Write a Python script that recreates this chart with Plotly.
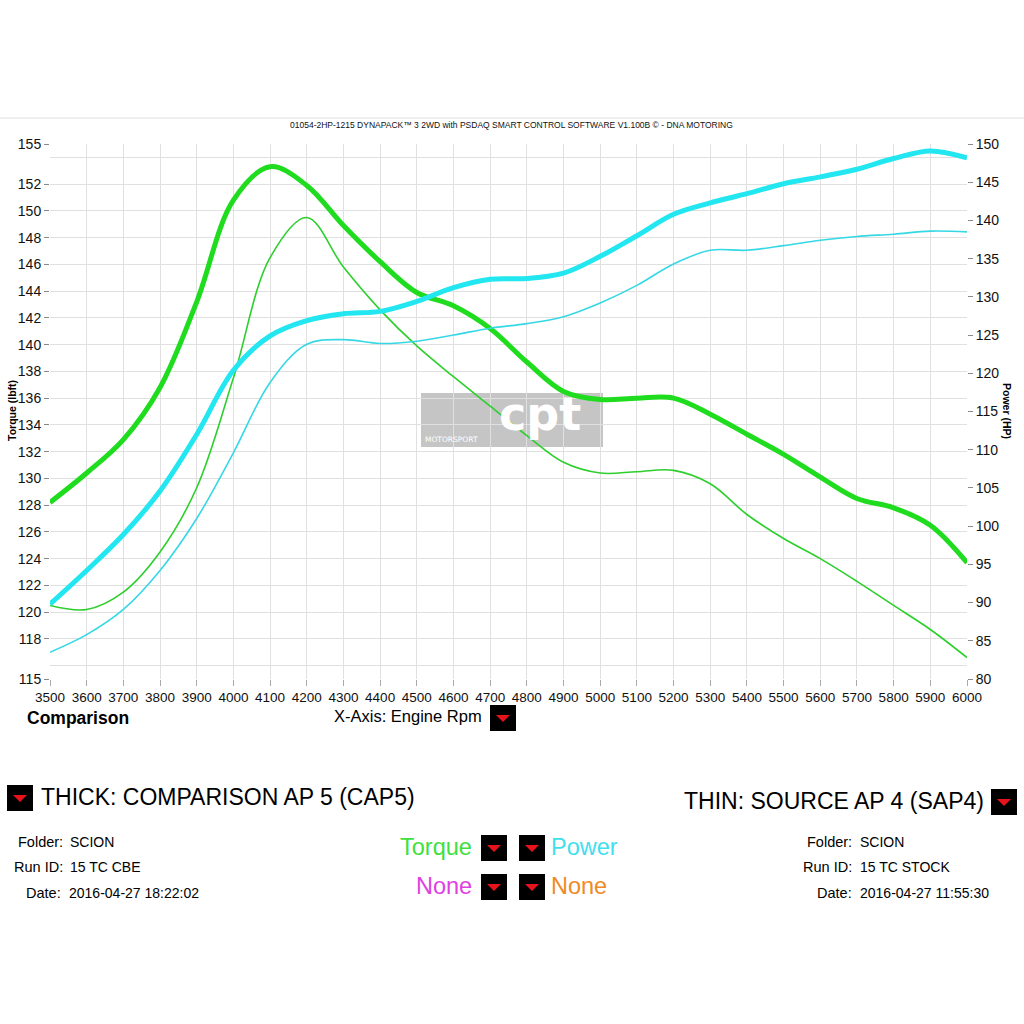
import plotly.graph_objects as go

# ---------------- data ----------------
rpm = [3500, 3600, 3700, 3800, 3900, 4000, 4100, 4200, 4300, 4400, 4500, 4600, 4700,
       4800, 4900, 5000, 5100, 5200, 5300, 5400, 5500, 5600, 5700, 5800, 5900, 6000]

cap5_torque = [128.2, 130.4, 132.9, 136.8, 143.2, 150.8, 153.3, 151.9, 148.9, 146.2, 143.9, 142.9, 141.2,
               138.7, 136.5, 135.9, 136.0, 136.0, 134.8, 133.3, 131.8, 130.1, 128.5, 127.8, 126.5, 123.7]
cap5_power = [89.8, 94.2, 98.9, 104.6, 112.0, 120.4, 124.9, 126.9, 127.8, 128.1, 129.4, 131.2, 132.3,
              132.4, 133.1, 135.3, 138.0, 140.8, 142.3, 143.5, 144.8, 145.7, 146.7, 148.1, 149.1, 148.2]
sap4_torque = [120.5, 120.2, 121.5, 124.5, 129.3, 137.5, 146.5, 149.5, 145.8, 142.6, 139.9, 137.6, 135.4,
               133.2, 131.2, 130.4, 130.5, 130.6, 129.6, 127.3, 125.5, 124.0, 122.3, 120.5, 118.7, 116.6]
sap4_power = [83.5, 85.8, 89.1, 94.2, 101.0, 109.6, 118.8, 123.8, 124.4, 123.9, 124.2, 125.0, 125.9,
              126.5, 127.4, 129.2, 131.5, 134.3, 136.1, 136.1, 136.7, 137.4, 137.9, 138.2, 138.6, 138.5]

x_ticks = list(range(3500, 6001, 100))
torque_ticks = [115, 118, 120, 122, 124, 126, 128, 130, 132, 134, 136, 138, 140,
                142, 144, 146, 148, 150, 152, 155]
torque_grid = list(range(116, 155, 2))
power_ticks = list(range(80, 151, 5))

title_text = "01054-2HP-1215 DYNAPACK\u2122 3 2WD with PSDAQ SMART CONTROL SOFTWARE V1.100B \u00a9 - DNA MOTORING"

# ---------------- layout helpers ----------------
W, H = 1024, 1024
L, R, T, B = 50, 967, 144, 679
PW, PH = R - L, B - T


def px(x):
    return (x - L) / PW


def py(y):
    return (B - y) / PH


FONT = "Liberation Sans, Arial, sans-serif"
GREEN_THICK = "#1fdc1f"
GREEN_THIN = "#2ccf2c"
CYAN_THICK = "#22e6f0"
CYAN_THIN = "#35d8e4"

fig = go.Figure()

fig.add_trace(go.Scatter(x=rpm, y=sap4_power, yaxis="y2", mode="lines",
                         line=dict(color=CYAN_THIN, width=1.6, shape="spline", smoothing=1.0),
                         name="SAP4 Power", showlegend=False, hoverinfo="skip"))
fig.add_trace(go.Scatter(x=rpm, y=cap5_power, yaxis="y2", mode="lines",
                         line=dict(color=CYAN_THICK, width=5, shape="spline", smoothing=1.0),
                         name="CAP5 Power", showlegend=False, hoverinfo="skip"))
fig.add_trace(go.Scatter(x=rpm, y=sap4_torque, yaxis="y", mode="lines",
                         line=dict(color=GREEN_THIN, width=1.6, shape="spline", smoothing=1.0),
                         name="SAP4 Torque", showlegend=False, hoverinfo="skip"))
fig.add_trace(go.Scatter(x=rpm, y=cap5_torque, yaxis="y", mode="lines",
                         line=dict(color=GREEN_THICK, width=5, shape="spline", smoothing=1.0),
                         name="CAP5 Torque", showlegend=False, hoverinfo="skip"))

shapes = []
annotations = []

# top separator line
shapes.append(dict(type="line", xref="paper", yref="paper", x0=px(0), x1=px(W), y0=py(118), y1=py(118),
                   line=dict(color="#dedede", width=1), layer="below"))

# watermark logo
shapes.append(dict(type="rect", xref="paper", yref="paper", x0=px(421), x1=px(603), y0=py(447), y1=py(393),
                   fillcolor="rgba(150,150,150,0.55)", line=dict(width=0), layer="below"))
annotations.append(dict(text="<b>cpt</b>", x=px(540), y=py(414), xref="paper", yref="paper",
                        showarrow=False, font=dict(family="DejaVu Sans, sans-serif", size=46, color="white"),
                        xanchor="center", yanchor="middle"))
annotations.append(dict(text="MOTORSPORT", x=px(423), y=py(439), xref="paper", yref="paper",
                        showarrow=False, font=dict(family="DejaVu Sans, sans-serif", size=7.5, color="white"),
                        xanchor="left", yanchor="middle"))


def icon(x0, y0, size=26):
    shapes.append(dict(type="rect", xref="paper", yref="paper", x0=px(x0), x1=px(x0 + size),
                       y0=py(y0 + size), y1=py(y0), fillcolor="black", line=dict(width=0)))
    cx, cy = x0 + size / 2, y0 + size / 2
    path = "M {a},{b} L {c},{d} L {e},{f} Z".format(
        a=px(cx - 7), b=py(cy - 3), c=px(cx + 7), d=py(cy - 3), e=px(cx), f=py(cy + 4))
    shapes.append(dict(type="path", xref="paper", yref="paper", path=path,
                       fillcolor="#e8131a", line=dict(width=0)))


def text(t, x, y, size, color="black", anchor="left", bold=False, angle=0):
    if bold:
        t = "<b>" + t + "</b>"
    annotations.append(dict(text=t, x=px(x), y=py(y), xref="paper", yref="paper", showarrow=False,
                            font=dict(family=FONT, size=size, color=color), xanchor=anchor,
                            yanchor="middle", textangle=angle))


icon(490, 705)
icon(7, 785)
icon(991, 789)
icon(481, 835)
icon(519, 835)
icon(481, 874)
icon(519, 874)

text(title_text, 512, 125, 8.5, color="#111", anchor="center")
text("Torque (lbft)", 12, 411, 10.5, bold=True, angle=-90, anchor="center")
text("Power (HP)", 1007, 411, 10.5, bold=True, angle=90, anchor="center")
text("Comparison", 25, 718, 17.5, bold=True)
text("X-Axis: Engine Rpm", 332, 716, 16.5)
text("THICK: COMPARISON AP 5 (CAP5)", 39, 797, 23)
text("THIN: SOURCE AP 4 (SAP4)", 986, 801, 23, anchor="right")

text("Folder:", 65, 842, 14.5, anchor="right")
text("SCION", 68, 842, 14)
text("Run ID:", 65, 867, 14.5, anchor="right")
text("15 TC CBE", 68, 867, 14)
text("Date:", 63, 893, 14.5, anchor="right")
text("2016-04-27 18:22:02", 67, 893, 14)

text("Folder:", 854, 842, 14.5, anchor="right")
text("SCION", 858, 842, 14)
text("Run ID:", 854, 867, 14.5, anchor="right")
text("15 TC STOCK", 858, 867, 14)
text("Date:", 854, 893, 14.5, anchor="right")
text("2016-04-27 11:55:30", 858, 893, 14)

text("Torque", 474, 847, 23.5, color="#3ee03e", anchor="right")
text("Power", 549, 847, 23.5, color="#3fe0ee")
text("None", 474, 886, 23.5, color="#e040e0", anchor="right")
text("None", 549, 886, 23.5, color="#f08a24")

axis_font = dict(family=FONT, size=14, color="#111")

fig.update_layout(
    width=W, height=H,
    margin=dict(l=L, r=W - R, t=T, b=H - B, pad=0),
    paper_bgcolor="white", plot_bgcolor="white",
    showlegend=False,
    font=dict(family=FONT),
    xaxis=dict(range=[3500, 6000], tickvals=x_ticks, ticktext=[str(v) for v in x_ticks],
               showgrid=True, gridcolor="#e0e0e0", gridwidth=1, zeroline=False,
               ticks="outside", ticklen=6, tickcolor="#aaaaaa", tickfont=dict(family=FONT, size=13.5, color="#111"),
               showline=False, fixedrange=True),
    yaxis=dict(range=[115, 155], tickvals=torque_ticks, ticktext=[str(v) for v in torque_ticks],
               showgrid=False, zeroline=False, ticks="outside", ticklen=5, tickcolor="#888888",
               tickfont=axis_font, showline=False),
    yaxis3=dict(range=[115, 155], overlaying="y", tickvals=torque_grid, showticklabels=False,
                showgrid=True, gridcolor="#e0e0e0", gridwidth=1, zeroline=False, ticks=""),
    yaxis2=dict(range=[80, 150], overlaying="y", side="right", tickvals=power_ticks,
                ticktext=[str(v) for v in power_ticks], showgrid=False, zeroline=False,
                ticks="outside", ticklen=5, tickcolor="#888888", tickfont=axis_font, showline=False),
    shapes=shapes,
    annotations=annotations,
)

# invisible point so the grid axis is rendered
fig.add_trace(go.Scatter(x=[rpm[0]], y=[torque_ticks[0]], yaxis="y3", mode="markers",
                         marker=dict(opacity=0), showlegend=False, hoverinfo="skip"))

fig.write_html("out.html")
